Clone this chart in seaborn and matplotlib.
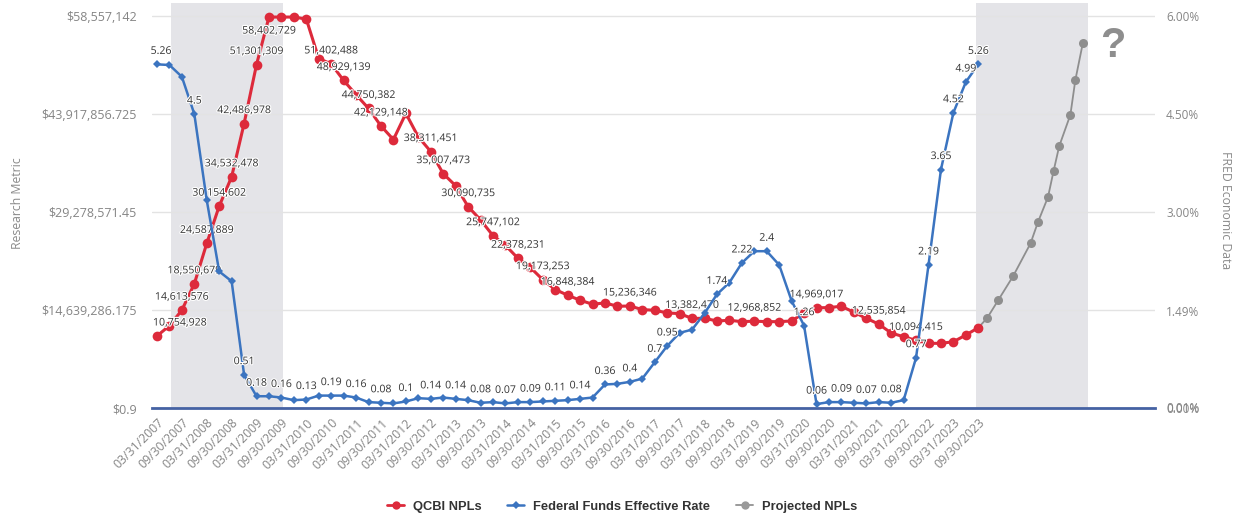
import numpy as np
import matplotlib
matplotlib.use('Agg')
import matplotlib.pyplot as plt
import matplotlib.patheffects as pe
from matplotlib.lines import Line2D
import seaborn as sns

sns.set_style('white')
plt.rcParams['font.family'] = ['Open Sans', 'DejaVu Sans']

# quarter-end dates 03/31/2007 .. 09/30/2023
quarter_ends = ['03/31', '06/30', '09/30', '12/31']
dates = [f'{q}/{y}' for y in range(2007, 2024) for q in quarter_ends][:67]

# QCBI NPLs (research metric, $)
npl = [10754928, 12300000, 14613576, 18550679, 24587889, 30154602, 34532478, 42486978,
       51301309, 58402729, 58400000, 58400000, 58100000, 52200000, 51402488, 48929139,
       46800000, 44750382, 42129148, 40100000, 44000000, 40500000, 38311451, 35007473,
       33200000, 30090735, 28100000, 25747102, 24300000, 22378231, 21000000, 19173253,
       17700000, 16848384, 16100000, 15500000, 15700000, 15200000, 15236346, 14700000,
       14600000, 14200000, 14100000, 13382470, 13400000, 13000000, 13100000, 12900000,
       12968852, 12900000, 12900000, 13000000, 14200000, 14969017, 15000000, 15200000,
       14300000, 13400000, 12535854, 11200000, 10650000, 10094415, 9660000, 9660000,
       9900000, 10900000, 12000000]

# Federal Funds Effective Rate (%)
fed = [5.26, 5.25, 5.07, 4.50, 3.18, 2.09, 1.94, 0.51, 0.18, 0.18, 0.16, 0.12,
       0.13, 0.19, 0.19, 0.19, 0.16, 0.09, 0.08, 0.07, 0.10, 0.15, 0.14, 0.16,
       0.14, 0.12, 0.08, 0.09, 0.07, 0.09, 0.09, 0.10, 0.11, 0.12, 0.14, 0.16,
       0.36, 0.37, 0.40, 0.45, 0.70, 0.95, 1.15, 1.20, 1.45, 1.74, 1.92, 2.22,
       2.40, 2.40, 2.19, 1.64, 1.26, 0.06, 0.09, 0.09, 0.08, 0.07, 0.09, 0.08,
       0.12, 0.77, 2.19, 3.65, 4.52, 4.99, 5.26]

# Projected NPLs (hand-drawn continuation, x in quarter units)
proj_x = [66, 66.7, 67.6, 68.8, 70.2, 70.8, 71.6, 72.05, 72.5, 73.4, 73.8, 74.4]
proj = [12000000, 13400000, 16100000, 19700000, 24600000, 27800000, 31500000,
        35400000, 39100000, 43800000, 49000000, 54500000]

npl_labels = [(0, '10,754,928'), (2, '14,613,576'), (3, '18,550,679'), (4, '24,587,889'),
              (5, '30,154,602'), (6, '34,532,478'), (7, '42,486,978'), (8, '51,301,309'),
              (9, '58,402,729'), (14, '51,402,488'), (15, '48,929,139'), (17, '44,750,382'),
              (18, '42,129,148'), (22, '38,311,451'), (23, '35,007,473'), (25, '30,090,735'),
              (27, '25,747,102'), (29, '22,378,231'), (31, '19,173,253'), (33, '16,848,384'),
              (38, '15,236,346'), (43, '13,382,470'), (48, '12,968,852'), (53, '14,969,017'),
              (58, '12,535,854'), (61, '10,094,415')]
fed_labels = [0, 3, 7, 8, 10, 12, 14, 16, 18, 20, 22, 24, 26, 28, 30, 32, 34, 36, 38,
              40, 41, 45, 47, 49, 52, 53, 55, 57, 59, 61, 62, 63, 64, 65, 66]

left_ticks = [0.9, 14639286.175, 29278571.45, 43917856.725, 58557142]
left_ticklabels = ['$0.9', '$14,639,286.175', '$29,278,571.45', '$43,917,856.725', '$58,557,142']
right_ticks = [0, 0.01, 1.49, 3, 4.5, 6]
right_ticklabels = ['0.00%', '0.01%', '1.49%', '3.00%', '4.50%', '6.00%']

RED = '#dd2a3b'
BLUE = '#3b74c0'
GRAY = '#8e8e8e'
TICK = '#858585'

x = np.arange(len(npl))

fig = plt.figure(figsize=(12.37, 5.16), dpi=100)
ax = fig.add_axes([152 / 1237, 108 / 516, 1003 / 1237, 405 / 516])
ax2 = ax.twinx()

# shaded periods
ax.axvspan(1.1, 10.1, color='#e4e4e8', zorder=0, lw=0)
ax.axvspan(65.8, 74.8, color='#e4e4e8', zorder=0, lw=0)

sns.lineplot(x=proj_x, y=proj, ax=ax, color=GRAY, marker='o', markersize=6.5,
             markeredgewidth=0, linewidth=1.3, legend=False, zorder=3)
sns.lineplot(x=x, y=npl, ax=ax, color=RED, marker='o', markersize=7,
             markeredgewidth=0, linewidth=2.2, legend=False, zorder=4)
sns.lineplot(x=x, y=fed, ax=ax2, color=BLUE, marker='D', markersize=4.5,
             markeredgewidth=0, linewidth=1.8, legend=False, zorder=4)

halo = [pe.withStroke(linewidth=1.6, foreground='white')]
for i, txt in npl_labels:
    dx, dy, ha = 0, 13, 'center'
    if i == 0:
        dx, ha = -4, 'left'
    if i == 9:
        dy = -14
    ax.annotate(txt, (x[i], npl[i]), xytext=(dx, dy), textcoords='offset pixels',
                ha=ha, va='center', fontsize=7.6, color='#333333', path_effects=halo, zorder=6)
for i in fed_labels:
    txt = f'{fed[i]:g}'
    dx = 4 if i == 0 else 0
    ax2.annotate(txt, (x[i], fed[i]), xytext=(dx, 13), textcoords='offset pixels',
                 ha='center', va='center', fontsize=7.6, color='#333333', path_effects=halo, zorder=6)

ax.text(76.8, 54.1e6, '?', fontsize=30, fontweight='bold', color=GRAY,
        ha='center', va='center', family='Liberation Sans')

# axes, ticks, grid
ax.set_xlim(-0.4, 80.2)
ax.set_ylim(0.9, 0.9 + (58557142 - 0.9) * 405 / 392)
ax2.set_ylim(0, 6 * 405 / 392)
ax.set_xticks(x[::2])
ax.set_xticklabels(dates[::2], rotation=45, ha='right', va='top', rotation_mode='anchor')
ax.set_yticks(left_ticks)
ax.set_yticklabels(left_ticklabels)
ax2.set_yticks(right_ticks)
ax2.set_yticklabels(right_ticklabels)
ax.tick_params(axis='x', length=0, pad=6, labelsize=8.8, labelcolor=TICK)
ax.tick_params(axis='y', length=0, pad=11, labelsize=9, labelcolor=TICK)
ax2.tick_params(axis='y', length=0, pad=8, labelsize=8.5, labelcolor=TICK)
ax.yaxis.grid(True, color='#e3e3e3', lw=1)
ax.set_axisbelow(True)
ax.set_xlabel('')
ax.set_ylabel('')
ax2.set_ylabel('')
for s in ['top', 'left', 'right']:
    ax.spines[s].set_visible(False)
ax.spines['bottom'].set_color('#4562a3')
ax.spines['bottom'].set_linewidth(2)
for s in ax2.spines.values():
    s.set_visible(False)

fig.text(0.014, 0.607, 'Research Metric', rotation=90, ha='center', va='center',
         fontsize=8.8, color='#8a8a8a')
fig.text(0.991, 0.593, 'FRED Economic Data', rotation=270, ha='center', va='center',
         fontsize=8.8, color='#8a8a8a')

handles = [Line2D([], [], color=RED, marker='o', markersize=6, lw=2, markeredgewidth=0),
           Line2D([], [], color=BLUE, marker='D', markersize=4, lw=1.8, markeredgewidth=0),
           Line2D([], [], color='#9a9a9a', marker='o', markersize=6, lw=1.4, markeredgewidth=0)]
leg = fig.legend(handles, ['QCBI NPLs', 'Federal Funds Effective Rate', 'Projected NPLs'],
                 loc='center', bbox_to_anchor=(0.503, 0.018), ncol=3, frameon=False,
                 handlelength=1.3, columnspacing=2.0, handletextpad=0.7,
                 prop={'family': 'Liberation Sans', 'weight': 'bold', 'size': 9.3})
for t in leg.get_texts():
    t.set_color('#333333')

fig.savefig('out.png', dpi=100)
